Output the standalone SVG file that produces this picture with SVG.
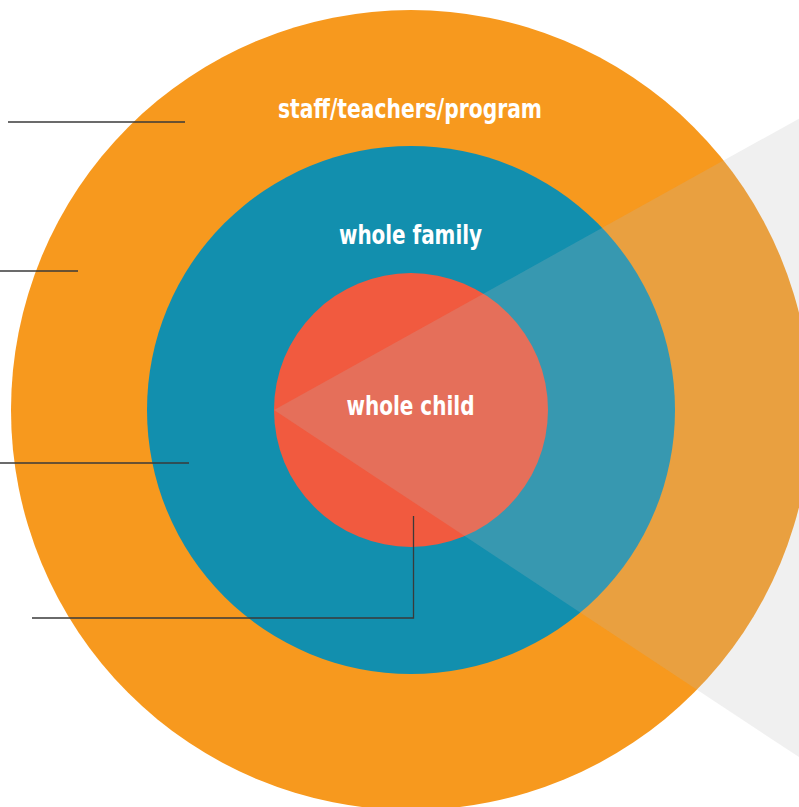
<svg xmlns="http://www.w3.org/2000/svg" width="799" height="807" viewBox="0 0 799 807">
<style>
.lbl{fill:#ffffff;font-family:"Liberation Sans Narrow","DejaVu Sans Condensed","Roboto Condensed",sans-serif;font-weight:bold;font-size:27px;text-anchor:middle}
.lead{stroke:#3a3a3a;stroke-width:1.3;fill:none}
</style>
<rect width="799" height="807" fill="#ffffff"/>
<g id="node-staff">
<circle cx="411" cy="410" r="400" fill="#F7991E"/>
</g>
<g id="node-family">
<circle cx="411" cy="410" r="264" fill="#128FAE"/>
</g>
<g id="node-child">
<circle cx="411" cy="410" r="137" fill="#F15A3F"/>
</g>
<polygon id="wedge" points="274,410 820,107 820,771" fill="#BABABC" fill-opacity="0.22"/>
<g id="labels">
<text class="lbl" x="410" y="118" textLength="264" lengthAdjust="spacingAndGlyphs">staff/teachers/program</text>
<text class="lbl" x="410.5" y="244" textLength="143" lengthAdjust="spacingAndGlyphs">whole family</text>
<text class="lbl" x="410.5" y="415" textLength="128" lengthAdjust="spacingAndGlyphs">whole child</text>
</g>
<g id="connectors">
<line class="lead" x1="8" y1="122" x2="185" y2="122"/>
<line class="lead" x1="0" y1="271" x2="78" y2="271"/>
<line class="lead" x1="0" y1="463" x2="189" y2="463"/>
<polyline class="lead" points="32,618 413.5,618 413.5,516"/>
</g>
</svg>
